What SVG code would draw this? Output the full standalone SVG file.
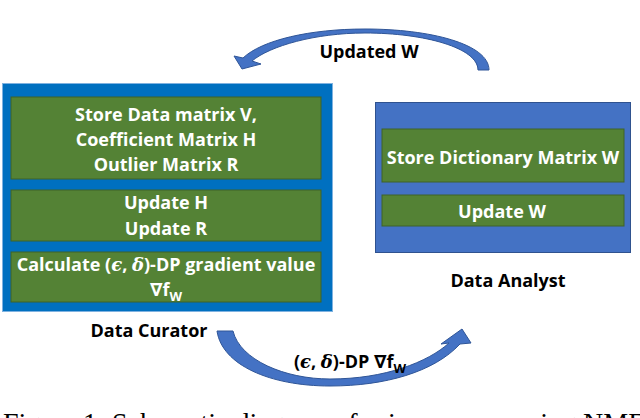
<svg xmlns="http://www.w3.org/2000/svg" width="640" height="418" viewBox="0 0 640 418">
<style>
.lbl{font-family:"Open Sans","Noto Sans","DejaVu Sans",sans-serif;font-weight:700;font-size:18px;text-anchor:middle}
.w{fill:#ffffff}
.k{fill:#000000}
.green{fill:#548235;stroke:#3E6228;stroke-width:1}
.math{font-family:"DejaVu Serif",serif;font-style:italic;font-weight:700}
.arrow{fill:#4472C4;stroke:#2F5597;stroke-width:1}
.cap{font-family:"Liberation Serif","Times New Roman",serif;font-size:28px;fill:#000}
</style>
<rect width="640" height="418" fill="#ffffff"/>
<g id="curator">
  <rect x="2.5" y="83.5" width="330" height="228" fill="#0070C0" stroke="#7FB2E0" stroke-width="1"/>
  <rect class="green" x="11" y="97" width="310" height="82"/>
  <rect class="green" x="11" y="190" width="310" height="51"/>
  <rect class="green" x="11" y="252" width="310" height="50"/>
  <text class="lbl w" x="166" y="121">Store Data matrix V,</text>
  <text class="lbl w" x="166" y="146">Coefficient Matrix H</text>
  <text class="lbl w" x="166" y="171">Outlier Matrix R</text>
  <text class="lbl w" x="166" y="209">Update H</text>
  <text class="lbl w" x="166" y="235">Update R</text>
  <text class="lbl w" x="166" y="271">Calculate (<tspan class="math">ϵ</tspan>, <tspan class="math">δ</tspan>)-DP gradient value</text>
  <text class="lbl w" x="166" y="296">∇f<tspan font-size="13" dy="5">W</tspan></text>
  <text class="lbl k" x="149" y="337">Data Curator</text>
</g>
<g id="analyst">
  <rect x="375.5" y="102.5" width="255" height="150" fill="#4472C4" stroke="#2F528F" stroke-width="1"/>
  <rect class="green" x="382" y="129" width="242" height="53"/>
  <rect class="green" x="382" y="195" width="242" height="31"/>
  <text class="lbl w" x="503" y="164">Store Dictionary Matrix W</text>
  <text class="lbl w" x="502" y="218">Update W</text>
  <text class="lbl k" x="508" y="287">Data Analyst</text>
</g>
<g id="connectors">
  <path class="arrow" d="M489 70 C489 44 430 29 365 29 C310 29 262 40 243 58 L234 56 L242 69 L261 64 L252 61 C270 46 315 33 365 33 C425 33 478 48 478 70 Z"/>
  <text class="lbl k" x="369" y="58">Updated W</text>
  <path class="arrow" d="M217 331 L233 331 C240 360 285 379 330 379 C385 379 428 362 449 343 L441 344 L462 329 L471 343 L460 344 C434 372 385 386 330 386 C270 386 222 365 217 331 Z"/>
  <text class="lbl k" x="350" y="368">(<tspan class="math">ϵ</tspan>, <tspan class="math">δ</tspan>)-DP ∇f<tspan font-size="13" dy="5">W</tspan></text>
</g>
<text class="cap" x="3" y="432">Figure 1: Schematic diagram of privacy-preserving NMF</text>
</svg>
